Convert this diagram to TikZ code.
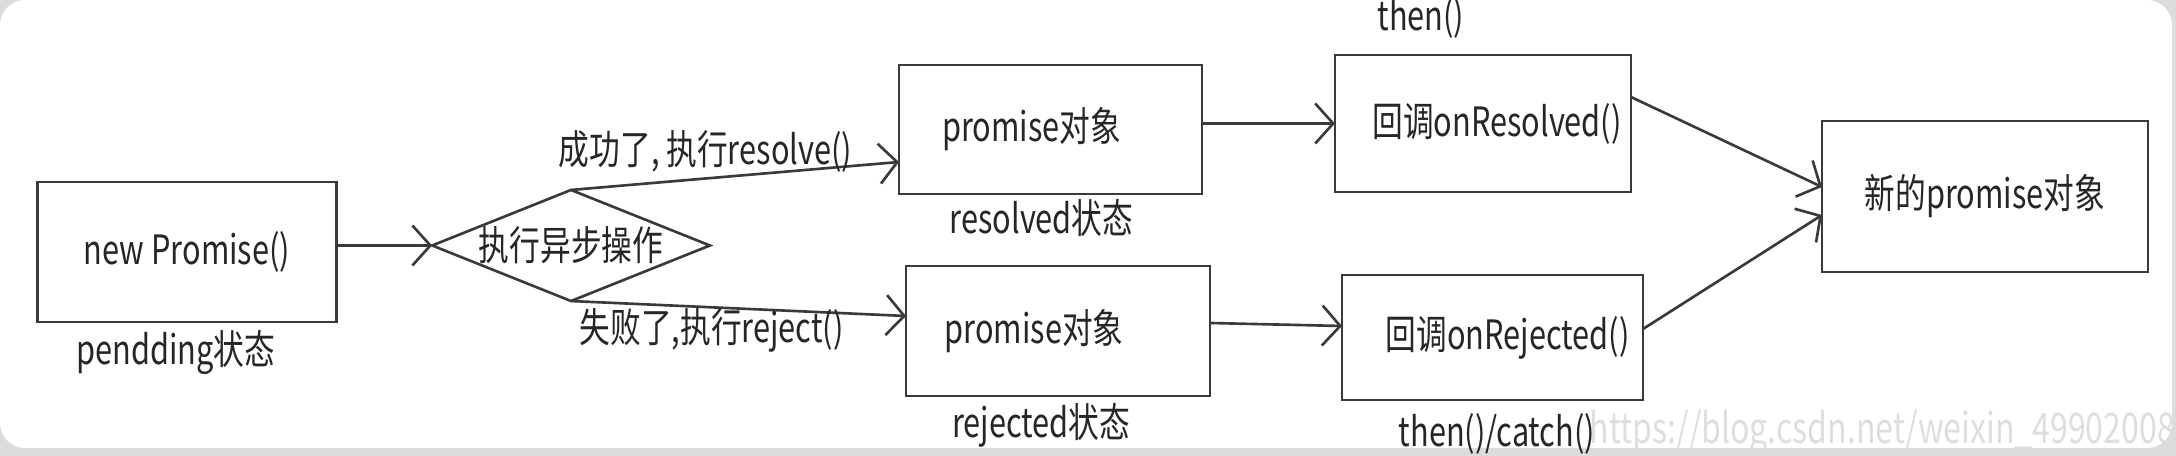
\documentclass[tikz,border=0pt]{standalone}
\usepackage{fontspec}
\setmainfont{Noto Sans CJK SC}[FakeStretch=0.76]
\usetikzlibrary{arrows.meta, calc, positioning, shapes.geometric}

\definecolor{linegray}{HTML}{3A3A3A}
\definecolor{textgray}{HTML}{262626}
\definecolor{framegray}{HTML}{DCDCDC}

\tikzset{
  stbox/.style={draw=linegray, line width=0.75pt, inner sep=0pt, outer sep=0pt, text=textgray},
  stlabel/.style={inner sep=0pt, text=textgray},
  flow/.style={draw=linegray, line width=0.75pt, -{Straight Barb[length=1.8mm, width=4mm]}},
}

\begin{document}
\begin{tikzpicture}[x=0.1mm, y=-0.1mm, font=\fontsize{11.5pt}{13pt}\selectfont]
\useasboundingbox (0,0) rectangle (2176,456);

% Frame of the screenshot
\fill[framegray] (0,0) rectangle (2176,456);
\fill[white, rounded corners=2.5mm] (0,0) rectangle (2172,448);

% States of the promise
\node[stbox, minimum width=29.85mm, minimum height=14mm] (newp) at (187,252) {new Promise()};
\node[stbox, diamond, aspect=2.5, minimum width=26.2mm, minimum height=10.5mm] (op) at (571,245.5) {执行异步操作};
\node[stbox, minimum width=30.3mm, minimum height=12.9mm] (res) at (1050.5,129.5) {\hspace*{-3.8mm}promise对象};
\node[stbox, minimum width=30.4mm, minimum height=13mm] (rej) at (1058,331) {\hspace*{-4.8mm}promise对象};

% Callbacks
\node[stbox, minimum width=29.6mm, minimum height=13.7mm] (onres) at (1483,123.5) {\hspace*{2.8mm}回调onResolved()};
\node[stbox, minimum width=30.1mm, minimum height=12.5mm] (onrej) at (1492.5,337.5) {\hspace*{3mm}回调onRejected()};
\node[stbox, minimum width=32.6mm, minimum height=15.1mm] (newobj) at (1985,196.5) {新的promise对象};

% Captions
\node[stlabel, below=0.8mm of newp, xshift=-1.1mm] (pendlbl) {pendding状态};
\node[stlabel, below=0.5mm of res, xshift=-0.9mm] (reslbl) {resolved状态};
\node[stlabel, below=0.7mm of rej, xshift=-1.7mm] (rejlbl) {rejected状态};
\node[stlabel, above=1.6mm of onres, xshift=-6.2mm] (thenlbl) {then()};
\node[stlabel, below=1.3mm of onrej, xshift=0.45mm] (catchlbl) {then()/catch()};

% Connectors
\draw[flow] (newp.east |- op.west) -- (op.west);
\draw[flow] (op.north) -- node[stlabel, pos=0.41, anchor=south, yshift=0.5mm] (oklbl) {成功了, 执行resolve()} ($(res.west)+(0,32.5)$);
\draw[flow] (op.south) -- node[stlabel, pos=0.42, anchor=north] (faillbl) {失败了,执行reject()} ($(rej.west)+(0,-15)$);
\draw[flow] (res.east |- onres.west) -- (onres.west);
\draw[flow] ($(rej.east)+(0,-8)$) -- ($(onrej.west)+(0,-11.5)$);
\draw[flow] ($(onres.east)+(0,-26.5)$) -- ($(newobj.west)+(0,-9.5)$);
\draw[flow] ($(onrej.east)+(0,-8.5)$) -- ($(newobj.west)+(0,18.5)$);

% Watermark
\begin{scope}
  \clip[rounded corners=2.5mm] (0,0) rectangle (2172,448);
  \node[anchor=west, inner sep=0pt, text=black!13, font=\fontsize{12pt}{14pt}\selectfont] (wm) at (1589,432) {https://blog.csdn.net/weixin\_49902008};
\end{scope}
\end{tikzpicture}
\end{document}
